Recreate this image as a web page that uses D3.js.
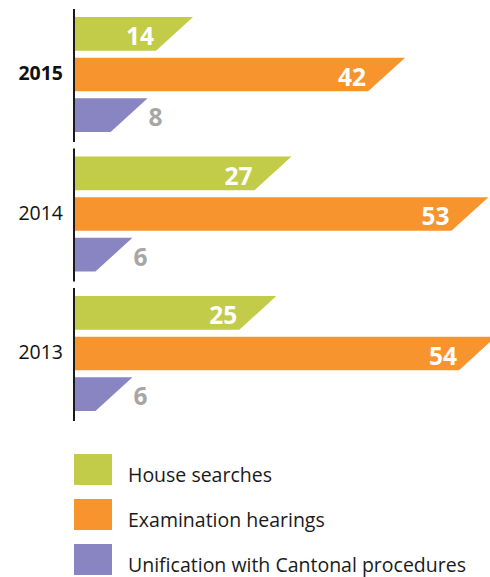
<!DOCTYPE html>
<html>
<head>
<meta charset="utf-8">
<script src="https://cdn.jsdelivr.net/npm/d3@7"></script>
<style>
    body { margin: 0; background: #fff; }
    text { font-family: "Open Sans", "DejaVu Sans", sans-serif; }
</style>
</head>
<body>
<script>
// data
const years = ["2015", "2014", "2013"]
const seriesNames = ["House searches", "Examination hearings", "Unification with Cantonal procedures"]
const houseSearches = [14, 27, 25]
const examHearings = [42, 53, 54]
const unification = [8, 6, 6]
const colors = ["#c2cc48", "#f7942e", "#8885c2"]

const values = [houseSearches, examHearings, unification]

const W = 490, H = 577
const axisX = 74
const slant = 37

const svg = d3.select("body").append("svg").attr("width", W).attr("height", H)

// scales
const x = d3.scaleLinear().domain([0, 54]).range([87, 496])
const yGroup = d3.scaleBand().domain(years).range([17, 17 + 139.5 * 3])
const yBar = d3.scaleBand().domain(seriesNames).range([0, 115]).paddingInner(0.17)

const groups = svg.selectAll(".year")
    .data(years)
    .join("g")
    .attr("class", "year")
    .attr("transform", d => "translate(0," + yGroup(d) + ")")

// axis segment per year
groups.append("line")
    .attr("x1", axisX).attr("x2", axisX)
    .attr("y1", -8).attr("y2", 125)
    .attr("stroke", "#1a1a1a")
    .attr("stroke-width", 2)

groups.append("text")
    .attr("x", 63)
    .attr("y", 63)
    .attr("text-anchor", "end")
    .attr("font-size", 19.5)
    .attr("font-weight", (d, i) => i === 0 ? "bold" : "normal")
    .attr("fill", "#111")
    .text(d => d)

// bars (slanted right end)
groups.each(function (yr, yi) {
    const g = d3.select(this)
    seriesNames.forEach((s, si) => {
        const v = values[si][yi]
        const top = yBar(s)
        const bot = top + yBar.bandwidth()
        const xr = x(v)
        g.append("path")
            .attr("d", "M" + (axisX + 1) + "," + top + "L" + xr + "," + top +
                "L" + (xr - slant) + "," + bot + "L" + (axisX + 1) + "," + bot + "Z")
            .attr("fill", colors[si])

        const inside = v >= 10
        g.append("text")
            .attr("x", inside ? xr - slant - 2 : xr + 1)
            .attr("y", top + 28)
            .attr("text-anchor", inside ? "end" : "start")
            .attr("font-size", 24.5)
            .attr("font-weight", "bold")
            .attr("fill", inside ? "#fff" : "#a6a6a6")
            .text(v)
    })
})

// legend
const legend = svg.selectAll(".legend")
    .data(seriesNames)
    .join("g")
    .attr("class", "legend")
    .attr("transform", (d, i) => "translate(74," + (454 + i * 45) + ")")

legend.append("rect")
    .attr("width", 38)
    .attr("height", 31)
    .attr("fill", (d, i) => colors[i])

legend.append("text")
    .attr("x", 54)
    .attr("y", 28)
    .attr("font-size", 19.5)
    .attr("fill", "#1a1a1a")
    .text(d => d)
</script>
</body>
</html>
